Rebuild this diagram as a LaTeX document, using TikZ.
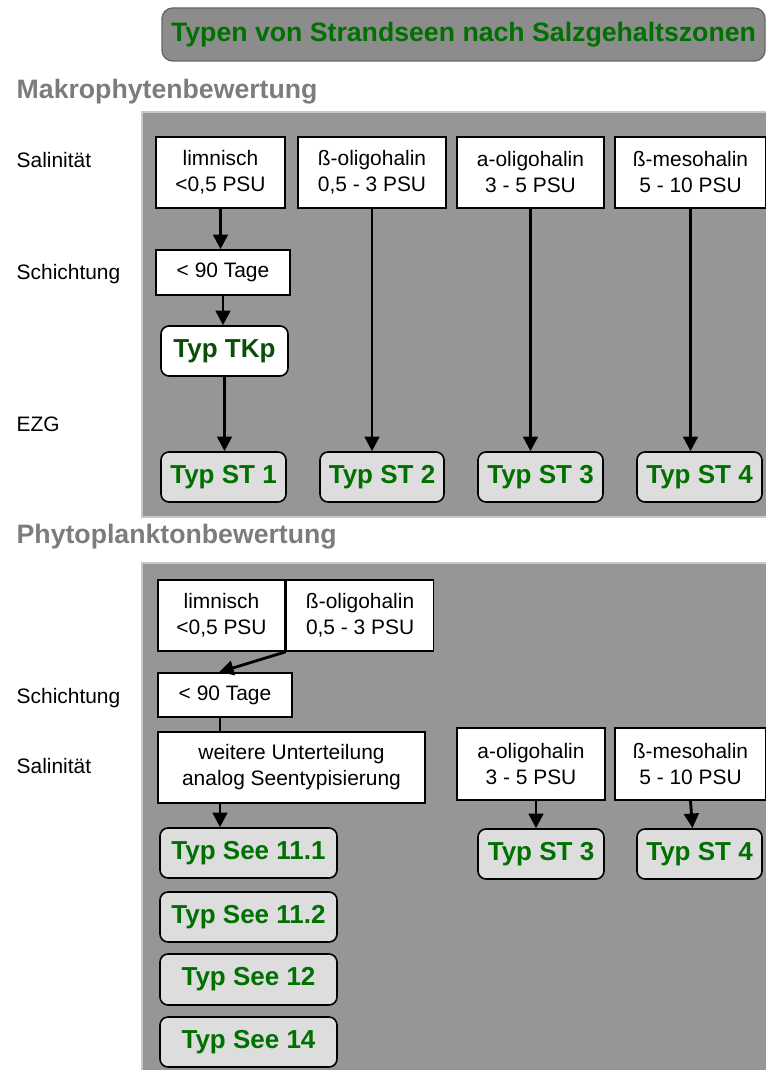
\documentclass[tikz,border=0pt]{standalone}
\usepackage{fontspec}
\setmainfont{Liberation Sans}
\usetikzlibrary{arrows.meta}

\definecolor{panelgray}{HTML}{969696}
\definecolor{panelrim}{HTML}{C8C8C8}
\definecolor{titlegray}{HTML}{8C8C8C}
\definecolor{headgray}{HTML}{7C7C7C}
\definecolor{typgreen}{HTML}{007000}
\definecolor{tkpgreen}{HTML}{0B4D0B}
\definecolor{typfill}{HTML}{DDDDDD}

\begin{document}
\begin{tikzpicture}[x=0.75pt,y=-0.75pt,
    dims/.style 2 args={minimum width=#1*0.75pt,minimum height=#2*0.75pt},
    panel/.style={fill=panelgray,draw=panelrim,line width=2pt},
    titlebox/.style={draw=black!60,fill=titlegray,line width=1pt,rounded corners=8pt,inner sep=0pt,
      text=typgreen,font=\fontsize{20}{24}\selectfont\bfseries},
    crit/.style={draw=black,fill=white,line width=1.2pt,inner sep=0pt,align=center,
      font=\fontsize{15.7}{19.5}\selectfont},
    typ/.style={draw=black,fill=typfill,line width=1.2pt,rounded corners=6pt,inner sep=0pt,
      text=typgreen,font=\fontsize{19.5}{22}\selectfont\bfseries},
    rowlabel/.style={anchor=base west,font=\fontsize{15.7}{19}\selectfont},
    heading/.style={anchor=base west,text=headgray,font=\fontsize{20}{24}\selectfont\bfseries},
    flow/.style={line width=2.1pt,-{Triangle[length=11pt,width=11pt]}}]
  \useasboundingbox (0,0) rectangle (765,1070);

  % Title
  \node[titlebox,dims={603}{53}] (title) at (463.5,34.5) {Typen von Strandseen nach Salzgehaltszonen};

  % Makrophytenbewertung
  \node[heading] (makro) at (12,99) {Makrophytenbewertung};
  \draw[panel] (142,112) rectangle (768,517);
  \node[rowlabel] (msal) at (12,167) {Salinität};
  \node[rowlabel] (mschicht) at (12,279) {Schichtung};
  \node[rowlabel] (mezg) at (12,431) {EZG};

  \node[crit,dims={129}{71}] (mlim) at (220.5,172.5) {limnisch\\<0,5 PSU};
  \node[crit,dims={148}{71}] (mboli) at (372,172.5) {ß-oligohalin\\0,5 - 3 PSU};
  \node[crit,dims={147}{71}] (maoli) at (530.5,172.5) {a-oligohalin\\3 - 5 PSU};
  \node[crit,dims={151}{71}] (mbmeso) at (690.5,172.5) {ß-mesohalin\\5 - 10 PSU};
  \node[crit,dims={134}{45}] (mtage) at (223,272.5) {< 90 Tage};
  \node[typ,fill=white,text=tkpgreen,dims={127}{50}] (tkp) at (224.5,351) {Typ TKp};

  \node[typ,dims={125}{50}] (mst1) at (223.5,477) {Typ ST 1};
  \node[typ,dims={124}{50}] (mst2) at (382,477) {Typ ST 2};
  \node[typ,dims={125}{50}] (mst3) at (540.5,477) {Typ ST 3};
  \node[typ,dims={125}{50}] (mst4) at (699.5,477) {Typ ST 4};

  \draw[flow] (mlim.south) -- (mlim.south |- mtage.north);
  \draw[flow] (mtage.south) -- (mtage.south |- tkp.north);
  \draw[flow] (tkp.south) -- (tkp.south |- mst1.north);
  \draw[flow] (mboli.south) -- (mboli.south |- mst2.north);
  \draw[flow] (maoli.south) -- (maoli.south |- mst3.north);
  \draw[flow] (mbmeso.south) -- (mbmeso.south |- mst4.north);

  % Phytoplanktonbewertung
  \node[heading] (phyto) at (12,543) {Phytoplanktonbewertung};
  \draw[panel] (142,563) rectangle (768,1075);
  \node[rowlabel] (pschicht) at (12,703) {Schichtung};
  \node[rowlabel] (psal) at (12,773) {Salinität};

  \node[crit,dims={127}{71}] (plim) at (221.5,615.5) {limnisch\\<0,5 PSU};
  \node[crit,dims={147}{71},anchor=west] (pboli) at (plim.east) {ß-oligohalin\\0,5 - 3 PSU};
  \node[crit,dims={134}{44}] (ptage) at (225,695) {< 90 Tage};
  \node[crit,dims={267}{71}] (pweiter) at (291.5,767.5) {weitere Unterteilung\\analog Seentypisierung};
  \node[crit,dims={148}{72}] (paoli) at (531,764) {a-oligohalin\\3 - 5 PSU};
  \node[crit,dims={151}{72}] (pbmeso) at (690.5,764) {ß-mesohalin\\5 - 10 PSU};

  \node[typ,dims={177}{50}] (see1) at (248.5,853) {Typ See 11.1};
  \node[typ,dims={177}{50}] (see2) at (248.5,917) {Typ See 11.2};
  \node[typ,dims={177}{51}] (see3) at (248.5,979.5) {Typ See 12};
  \node[typ,dims={177}{50}] (see4) at (248.5,1042) {Typ See 14};
  \node[typ,dims={126}{50}] (pst3) at (541,854) {Typ ST 3};
  \node[typ,dims={125}{50}] (pst4) at (699.5,854) {Typ ST 4};

  \coordinate (pstem) at ([xshift=-3.75pt]ptage.south);
  \draw[flow] (plim.south east) -- ([xshift=-4.5pt]ptage.north);
  \draw[line width=2.1pt] (pstem) -- (pstem |- pweiter.north);
  \draw[flow] (pstem |- pweiter.south) -- (pstem |- see1.north);
  \draw[flow] ([xshift=3.75pt]paoli.south) -- ([xshift=3.75pt]paoli.south |- pst3.north);
  \draw[flow] (pbmeso.south) -- ([xshift=1.5pt]pbmeso.south |- pst4.north);
\end{tikzpicture}
\end{document}
